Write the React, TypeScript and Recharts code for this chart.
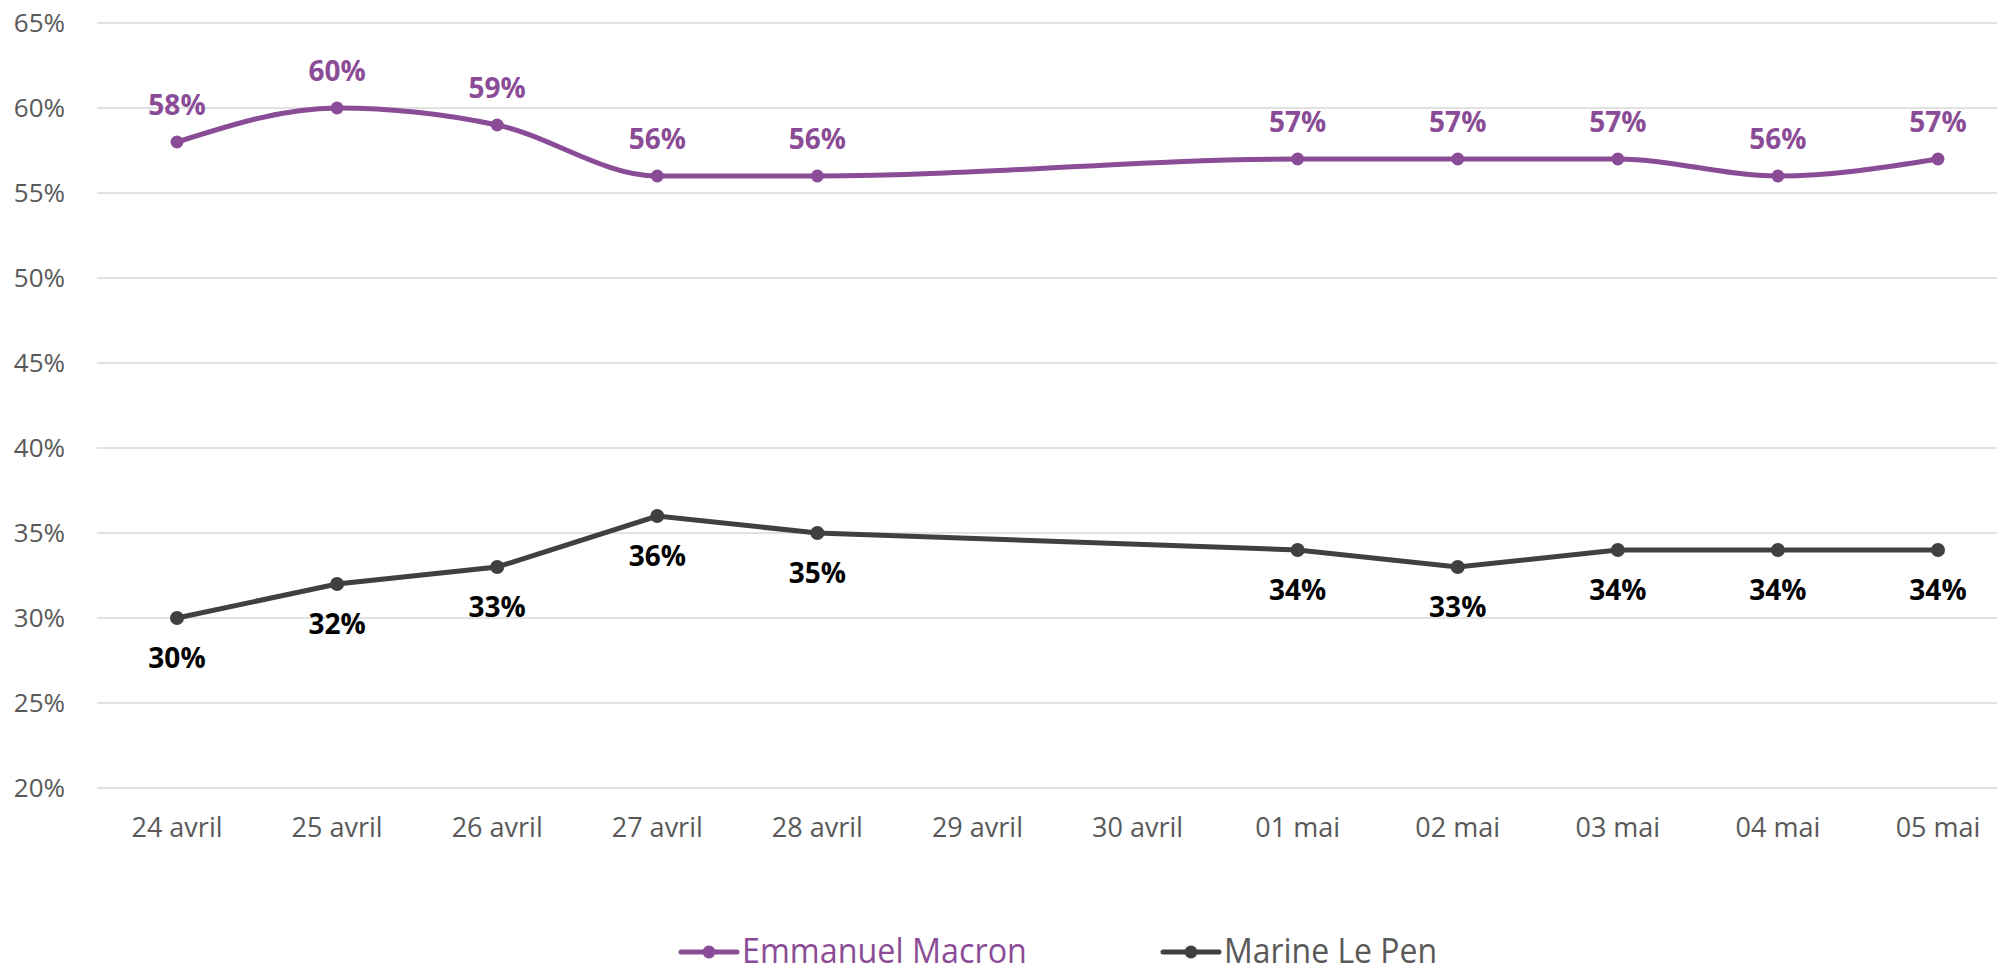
import { LineChart, Line, XAxis, YAxis, CartesianGrid, Legend, LabelList } from 'recharts';

const dates = ['24 avril', '25 avril', '26 avril', '27 avril', '28 avril', '29 avril', '30 avril', '01 mai', '02 mai', '03 mai', '04 mai', '05 mai'];
const macron = [58, 60, 59, 56, 56, null, null, 57, 57, 57, 56, 57];
const lePen = [30, 32, 33, 36, 35, null, null, 34, 33, 34, 34, 34];
const yTicks = [20, 25, 30, 35, 40, 45, 50, 55, 60, 65];

const data = dates.map((date, i) => ({ date, macron: macron[i], lePen: lePen[i] }));

const PURPLE = '#8B4C97';
const DARK = '#404040';
const AXIS_TEXT = '#595959';
const FONT = '"Open Sans", "Noto Sans", sans-serif';

function MacronLabel(props: any) {
  const { x, y, value } = props;
  if (value == null) return null;
  return (
    <text x={x} y={y - 27} textAnchor="middle" fill={PURPLE} fontSize={28} fontWeight={700} fontFamily={FONT}>
      {value}%
    </text>
  );
}

function LePenLabel(props: any) {
  const { x, y, value } = props;
  if (value == null) return null;
  return (
    <text x={x} y={y + 50} textAnchor="middle" fill="#000000" fontSize={28} fontWeight={700} fontFamily={FONT}>
      {value}%
    </text>
  );
}

// legend laid out like the original: two items under the plot
function CustomLegend() {
  const items = [
    { name: 'Emmanuel Macron', color: PURPLE, text: PURPLE, x: 681, sx: 0.95 },
    { name: 'Marine Le Pen', color: DARK, text: AXIS_TEXT, x: 1163, sx: 0.94 },
  ];
  return (
    <svg width={2018} height={60} style={{ display: 'block' }}>
      {items.map((it) => (
        <g key={it.name}>
          <line x1={it.x} x2={it.x + 56} y1={46} y2={46} stroke={it.color} strokeWidth={5} strokeLinecap="round" />
          <circle cx={it.x + 28} cy={46} r={6.5} fill={it.color} />
          <text
            transform={`translate(${it.x + 61},57) scale(${it.sx},1)`}
            fill={it.text}
            fontSize={34}
            fontFamily={FONT}
          >
            {it.name}
          </text>
        </g>
      ))}
    </svg>
  );
}

export default function App() {
  return (
    <div style={{ marginLeft: -8, marginTop: -8, width: 2005, height: 966, overflow: 'hidden', background: '#fff' }}>
      <LineChart width={2018} height={966} data={data} margin={{ top: 23, right: 0, left: 0, bottom: 0 }}>
        <CartesianGrid horizontal vertical={false} stroke="#D9D9D9" strokeWidth={1.3} />
        <XAxis
          dataKey="date"
          interval={0}
          padding={{ left: 80, right: 80 }}
          axisLine={false}
          tickLine={false}
          tickSize={0}
          tickMargin={30}
          height={118}
          tick={{ fill: AXIS_TEXT, fontSize: 27, fontFamily: FONT }}
        />
        <YAxis
          width={97}
          domain={[20, 65]}
          ticks={yTicks}
          axisLine={false}
          tickLine={false}
          tickSize={0}
          tickMargin={32}
          tickFormatter={(v) => `${v}%`}
          tick={{ fill: AXIS_TEXT, fontSize: 26, fontFamily: FONT }}
        />
        <Legend verticalAlign="bottom" content={<CustomLegend />} />
        <Line
          type="monotone"
          dataKey="macron"
          name="Emmanuel Macron"
          stroke={PURPLE}
          strokeWidth={5}
          connectNulls
          dot={{ r: 6.5, fill: PURPLE, stroke: PURPLE, strokeWidth: 0 }}
          isAnimationActive={false}
        >
          <LabelList dataKey="macron" content={<MacronLabel />} />
        </Line>
        <Line
          type="linear"
          dataKey="lePen"
          name="Marine Le Pen"
          stroke={DARK}
          strokeWidth={5}
          connectNulls
          dot={{ r: 7, fill: DARK, stroke: DARK, strokeWidth: 0 }}
          isAnimationActive={false}
        >
          <LabelList dataKey="lePen" content={<LePenLabel />} />
        </Line>
      </LineChart>
    </div>
  );
}
